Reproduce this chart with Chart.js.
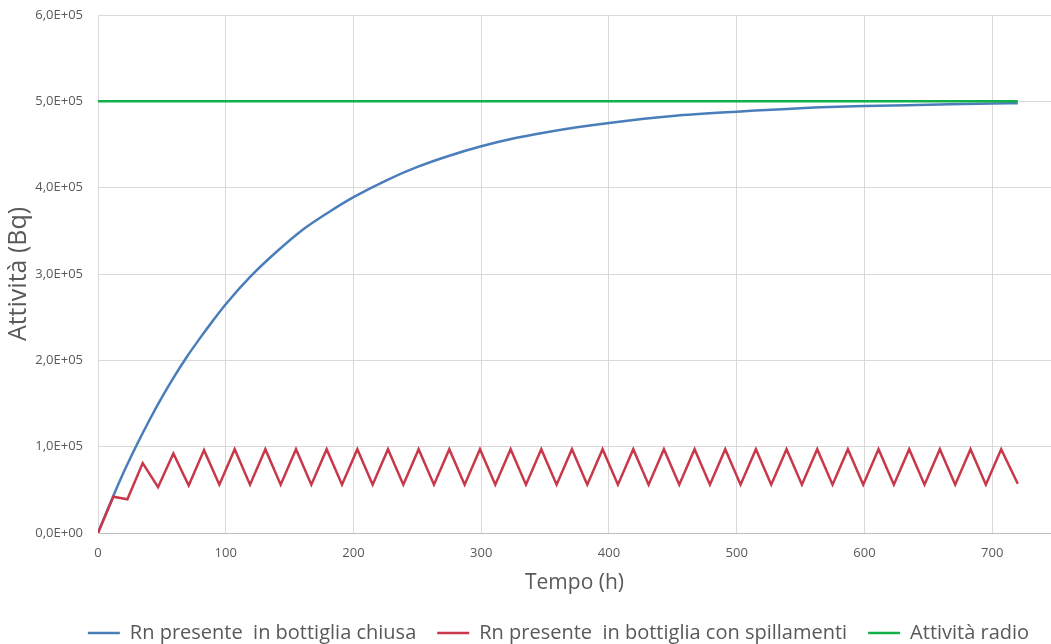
<!DOCTYPE html>
<html>
<head>
<meta charset="utf-8">
<title>Attività Rn</title>
<script src="https://cdn.jsdelivr.net/npm/chart.js@4.4.1/dist/chart.umd.min.js"></script>
<style>
html, body { margin: 0; padding: 0; background: #ffffff; }
#wrap { width: 1051px; height: 644px; }
</style>
</head>
<body>
<div id="wrap"><canvas id="c1"></canvas></div>
<script>
// valori
var seriesNames = ['Rn presente  in bottiglia chiusa', 'Rn presente  in bottiglia con spillamenti', 'Attività radio'];

var closedHours = [0, 10, 20, 30, 40, 50, 60, 70, 80, 90, 100, 120, 140, 160, 180, 200, 225, 250, 275, 300, 325, 350, 375, 400, 450, 500, 550, 600, 650, 700, 720];
var closedValues = [0, 36000, 70000, 101000, 130000, 157000, 182000, 205000, 226000, 246000, 265000, 298000, 326000, 351000, 371000, 389000, 408000, 424000, 437000, 448000, 457000, 464000, 470000, 475000, 483000, 488000, 492000, 494500, 496000, 497500, 497800];

var tapHours = [0, 12, 23, 35, 47, 59, 71, 83, 95, 107, 119, 131, 143, 155, 167, 179, 191, 203, 215, 227, 239,
  251, 263, 275, 287, 299, 311, 323, 335, 347, 359, 371, 383, 395, 407, 419, 431, 443, 455, 467, 479,
  491, 503, 515, 527, 539, 551, 563, 575, 587, 599, 611, 623, 635, 647, 659, 671, 683, 695, 707, 720];
var tapValues = [0, 42000, 39000, 81000, 53000, 92000, 55000, 96000, 56000, 97000, 56000, 97000, 56000, 97000, 56000, 97000, 56000, 97000, 56000, 97000, 56000,
  97000, 56000, 97000, 56000, 97000, 56000, 97000, 56000, 97000, 56000, 97000, 56000, 97000, 56000, 97000, 56000, 97000, 56000, 97000, 56000,
  97000, 56000, 97000, 56000, 97000, 56000, 97000, 56000, 97000, 56000, 97000, 56000, 97000, 56000, 97000, 56000, 97000, 56000, 97000, 57000];

var radioHours = [0, 720];
var radioValues = [500000, 500000];

var yTickLabels = ['0,0E+00', '1,0E+05', '2,0E+05', '3,0E+05', '4,0E+05', '5,0E+05', '6,0E+05'];
var xTickValues = [0, 100, 200, 300, 400, 500, 600, 700];

function pts(xs, ys) {
  return xs.map(function (x, i) { return { x: x, y: ys[i] }; });
}

var txt = '#595959';
var fam = "'Open Sans', 'DejaVu Sans', sans-serif";
var plotTop = 15;
var plotBottom = 533;

// sposta la legenda come nell'originale
var legendShift = {
  id: 'legendShift',
  afterLayout: function (chart) {
    var lg = chart.legend;
    lg.left += 33;
    lg.right += 33;
    lg.top += 9;
    lg.bottom += 9;
  }
};

var ctx = document.getElementById('c1').getContext('2d');
var chart = new Chart(ctx, {
  type: 'line',
  data: {
    datasets: [
      {
        label: seriesNames[0],
        data: pts(closedHours, closedValues),
        borderColor: '#4a7ebb',
        backgroundColor: '#4a7ebb',
        borderWidth: 2.5,
        pointRadius: 0,
        cubicInterpolationMode: 'monotone',
        order: 3
      },
      {
        label: seriesNames[1],
        data: pts(tapHours, tapValues),
        borderColor: '#c8384a',
        backgroundColor: '#c8384a',
        borderWidth: 2.5,
        pointRadius: 0,
        order: 2
      },
      {
        label: seriesNames[2],
        data: pts(radioHours, radioValues),
        borderColor: '#12b04b',
        backgroundColor: '#12b04b',
        borderWidth: 2.5,
        pointRadius: 0,
        order: 1
      }
    ]
  },
  plugins: [legendShift],
  options: {
    responsive: true,
    maintainAspectRatio: false,
    animation: false,
    layout: { padding: { top: 0, left: 0, right: 0, bottom: 0 } },
    plugins: {
      tooltip: { enabled: false },
      legend: {
        position: 'bottom',
        labels: {
          usePointStyle: true,
          pointStyle: 'line',
          pointStyleWidth: 32,
          padding: 21,
          color: txt,
          font: { family: fam, size: 20 },
          sort: function (a, b) { return a.datasetIndex - b.datasetIndex; }
        }
      }
    },
    scales: {
      x: {
        type: 'linear',
        min: 0,
        max: 746,
        afterBuildTicks: function (scale) {
          scale.ticks = xTickValues.map(function (v) { return { value: v }; });
        },
        afterFit: function (scale) {
          var lh = scale.chart.legend ? scale.chart.legend.height : 0;
          scale.height = scale.chart.height - plotBottom - lh;
        },
        ticks: {
          color: txt,
          padding: 12,
          maxRotation: 0,
          font: { family: fam, size: 13 },
          callback: function (v) { return String(v); }
        },
        grid: { color: '#d9d9d9', drawTicks: false },
        border: { color: '#bfbfbf', width: 1 },
        title: {
          display: true,
          text: 'Tempo (h)',
          color: txt,
          font: { family: fam, size: 21 },
          padding: { top: 2, bottom: -3 }
        }
      },
      y: {
        min: 0,
        max: 600000,
        afterFit: function (scale) {
          scale.width = 98;
          scale.paddingTop = plotTop;
        },
        ticks: {
          stepSize: 100000,
          color: txt,
          padding: 15,
          font: { family: fam, size: 13 },
          callback: function (v, i) { return yTickLabels[Math.round(v / 100000)]; }
        },
        grid: { color: '#d9d9d9', drawTicks: false },
        border: { color: '#d9d9d9' },
        title: {
          display: true,
          text: 'Attività (Bq)',
          color: txt,
          font: { family: fam, size: 25 },
          padding: { top: 4, bottom: 0 }
        }
      }
    }
  }
});
</script>
</body>
</html>
